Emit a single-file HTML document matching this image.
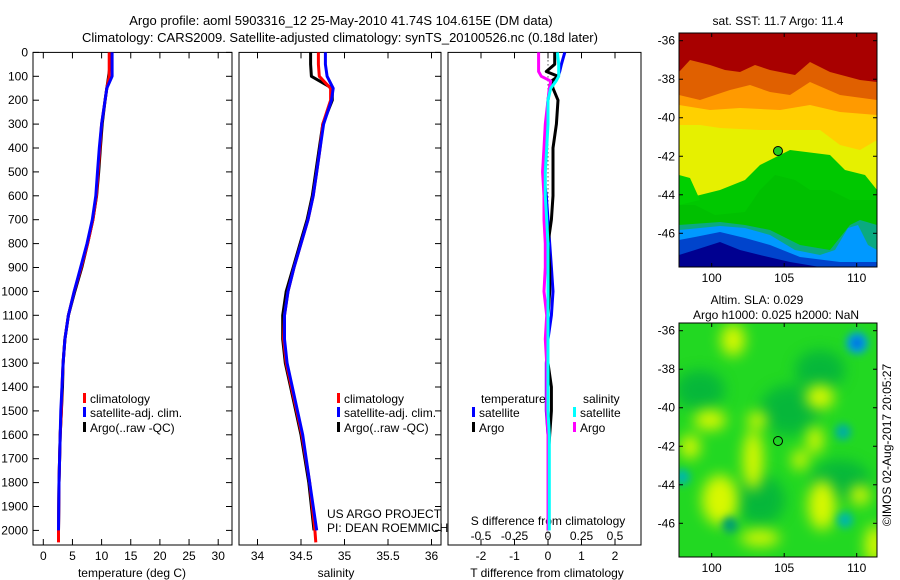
<!DOCTYPE html>
<html><head><meta charset="utf-8"><style>
body{margin:0;background:#fff;}
svg{display:block;font-family:"Liberation Sans",sans-serif;}
</style></head><body>
<svg id="fig" width="900" height="580" viewBox="0 0 900 580" xmlns="http://www.w3.org/2000/svg">
<defs>
<filter id="blur4"><feGaussianBlur stdDeviation="4"/></filter>
<filter id="blur7"><feGaussianBlur stdDeviation="7"/></filter>
<clipPath id="clipMap1"><rect x="679" y="33" width="198" height="234"/></clipPath>
<clipPath id="clipMap2"><rect x="679" y="323" width="198" height="234"/></clipPath>
</defs>
<g font-size="13" fill="#000" text-anchor="middle">
<text x="341" y="25">Argo profile: aoml 5903316_12 25-May-2010 41.74S 104.615E (DM data)</text>
<text x="340" y="42">Climatology: CARS2009. Satellite-adjusted climatology: synTS_20100526.nc (0.18d later)</text>
</g>
<g id="panels"></g>

<!-- Map 1: SST -->
<g clip-path="url(#clipMap1)">
<rect x="679" y="33" width="198" height="234" fill="#e6f000"/>
<path fill="#00c800" d="M679,200 L700,195 L720,190 L745,180 L760,165 L790,150 L830,155 L845,170 L865,175 L877,190 L877,267 L679,267Z"/>
<path fill="#00b800" d="M679,205 L695,205 L715,215 L745,212 L760,190 L775,175 L795,180 L810,190 L830,190 L850,200 L877,200 L877,240 L679,240Z" opacity="0.5"/>
<path fill="#00d000" d="M679,175 L690,178 L700,200 L679,205Z"/>
<path fill="#0aaa80" d="M679,225 L720,222 L745,225 L770,230 L800,245 L830,250 L850,225 L860,220 L877,225 L877,267 L679,267Z"/>
<path fill="#0099ff" d="M679,230 L700,228 L720,226 L745,228 L770,235 L795,250 L820,255 L835,250 L848,228 L858,225 L868,245 L877,250 L877,267 L679,267Z"/>
<path fill="#0044cc" d="M679,240 L695,237 L720,232 L745,238 L770,245 L800,257 L840,262 L877,262 L877,267 L679,267Z"/>
<path fill="#000090" d="M679,255 L695,250 L720,242 L740,250 L760,255 L790,262 L820,267 L679,267Z"/>
<path fill="#ffd000" d="M679,33 L877,33 L877,140 L860,150 L840,145 L820,130 L800,130 L760,130 L720,128 L700,125 L679,125Z"/>
<path fill="#ff9a00" d="M679,33 L877,33 L877,115 L840,112 L810,105 L780,110 L740,108 L710,110 L679,105Z"/>
<path fill="#e06000" d="M679,33 L877,33 L877,100 L840,95 L810,82 L790,95 L770,92 L750,85 L730,90 L700,100 L679,95Z"/>
<path fill="#a80000" d="M679,33 L877,33 L877,82 L860,80 L830,72 L810,62 L795,75 L770,70 L755,65 L740,72 L725,70 L710,65 L690,60 L679,72Z"/>
<circle cx="778" cy="151" r="4.5" fill="#22cc22" stroke="#000" stroke-width="1"/>
</g>
<rect x="679" y="33" width="198" height="234" fill="none" stroke="#000" stroke-width="1"/>

<!-- Map 2: SLA -->
<g clip-path="url(#clipMap2)">
<rect x="679" y="323" width="198" height="234" fill="#22d822"/>
<g filter="url(#blur7)" fill="#00b040" opacity="0.8">
<ellipse cx="700" cy="390" rx="25" ry="20"/><ellipse cx="790" cy="410" rx="30" ry="25"/><ellipse cx="760" cy="500" rx="25" ry="25"/><ellipse cx="840" cy="480" rx="30" ry="20"/><ellipse cx="820" cy="370" rx="25" ry="20"/>
</g>
<g filter="url(#blur7)" fill="#d8f800">
<ellipse cx="733" cy="340" rx="12" ry="16"/><ellipse cx="820" cy="397" rx="14" ry="12"/><ellipse cx="710" cy="420" rx="16" ry="10"/><ellipse cx="757" cy="420" rx="10" ry="8"/>
<ellipse cx="690" cy="447" rx="10" ry="12"/><ellipse cx="753" cy="460" rx="10" ry="30"/><ellipse cx="720" cy="500" rx="18" ry="25"/><ellipse cx="822" cy="505" rx="14" ry="25"/>
<ellipse cx="860" cy="495" rx="10" ry="10"/><ellipse cx="875" cy="545" rx="10" ry="20"/><ellipse cx="760" cy="538" rx="20" ry="8"/><ellipse cx="800" cy="460" rx="8" ry="10"/><ellipse cx="815" cy="440" rx="8" ry="14"/>
</g>
<g filter="url(#blur4)">
<circle cx="857" cy="343" r="11" fill="#00a0e0"/><circle cx="857" cy="343" r="5" fill="#0060e0"/>
<circle cx="843" cy="432" r="8" fill="#00b0a0"/><circle cx="845" cy="520" r="8" fill="#00b8a8"/>
<circle cx="682" cy="477" r="8" fill="#00b8a8"/><circle cx="730" cy="525" r="8" fill="#00a070"/>
</g>
<circle cx="778" cy="441" r="4.5" fill="none" stroke="#000" stroke-width="1"/>
</g>
<rect x="679" y="323" width="198" height="234" fill="none" stroke="#000" stroke-width="1"/>

<g font-size="12" text-anchor="middle">
<text x="778" y="25">sat. SST: 11.7 Argo: 11.4</text>
<text x="757" y="304">Altim. SLA: 0.029</text>
<text x="776" y="319">Argo h1000: 0.025 h2000: NaN</text>
<text x="0" y="0" transform="translate(891,445) rotate(-90)">©IMOS 02-Aug-2017 20:05:27</text>
</g>
<g id="mapaxes"></g>
</svg>
<script>
// ---------- data ----------
const depthLevels = [0,50,100,150,200,300,400,500,600,700,800,900,1000,1100,1200,1300,1400,1500,1600,1800,2000,2050];
const tempClim   = [11.3,11.3,11.3,10.9,10.6,10.0,9.7,9.4,9.1,8.5,7.6,6.5,5.3,4.3,3.7,3.4,3.2,3.1,2.9,2.7,2.6,2.6];
const tempSat    = [11.8,11.8,11.8,10.9,10.6,10.0,9.6,9.3,9.0,8.4,7.5,6.4,5.3,4.3,3.7,3.4,3.2,3.0,2.9,2.7,2.6,null];
const tempArgo   = [11.5,11.5,11.2,10.9,10.6,10.1,9.8,9.5,9.15,8.5,7.6,6.6,5.4,4.3,3.7,3.4,3.3,3.1,2.9,2.7,2.6,null];
const salClim    = [34.70,34.70,34.71,34.84,34.84,34.75,34.72,34.68,34.64,34.58,34.50,34.42,34.35,34.31,34.30,34.33,34.39,34.45,34.51,34.60,34.66,34.67];
const salSat     = [34.78,34.78,34.80,34.87,34.85,34.76,34.72,34.68,34.64,34.58,34.50,34.42,34.35,34.31,34.31,34.34,34.40,34.46,34.52,34.60,34.68,null];
const salArgo    = [34.61,34.61,34.62,34.86,34.86,34.75,34.71,34.67,34.63,34.57,34.49,34.41,34.33,34.29,34.29,34.32,34.38,34.44,34.50,34.59,34.65,null];
const diffDepths = [0,50,80,100,120,150,200,300,400,500,600,700,800,900,1000,1100,1200,1300,1400,1500,1600,1700,1800,1900,2000];
const tDiffSat   = [0.5,0.4,0.35,0.3,0.2,0.05,0.0,-0.05,-0.1,-0.15,-0.05,0,0.05,0.1,0.15,0.1,0,-0.05,-0.05,-0.05,0,0,0,0,0];
const tDiffArgo  = [0.2,0.2,-0.05,0.3,0.1,0.15,0.3,0.25,0.15,0.15,0.15,0.1,0,0.05,0.05,0,0,0,0.1,0.1,0.05,0,0,0,0];
const sDiffSat   = [0.07,0.08,0.08,0.08,0.06,0.02,0,0,-0.01,-0.02,-0.02,-0.01,0,0,0,0,0,0,0,0,0.01,0.01,0.01,0.01,0.01];
const sDiffArgo  = [-0.07,-0.07,-0.07,-0.05,0.02,0.01,0,-0.02,-0.03,-0.04,-0.03,-0.03,-0.02,-0.02,-0.03,-0.01,-0.02,-0.01,-0.01,-0.01,0,0,0,0,0];
const depthTicks = [0,100,200,300,400,500,600,700,800,900,1000,1100,1200,1300,1400,1500,1600,1700,1800,1900,2000];
const tempTicks  = [0,5,10,15,20,25,30];
const salTicks   = [34,34.5,35,35.5,36];
const tDiffTicks = [-2,-1,0,1,2];
const sDiffTicks = [-0.5,-0.25,0,0.25,0.5];
const lonTicks   = [100,105,110];
const latTicks   = [-36,-38,-40,-42,-44,-46];

// ---------- axes ----------
const NS='http://www.w3.org/2000/svg';
const TOP=52.4, BOT=545, DMAX=(BOT-TOP)/0.239;
const yD = d => TOP + d*0.239;
const xT = v => 43.3 + v*5.83;
const xS = v => 257.5 + (v-34)*87;
const xTD = v => 548 + v*33.5;
const xSD = v => 548 + v*134;
const lonX = v => 711.7 + (v-100)*14.5;
const latY1 = v => 40.7 + (-36 - v)*19.26;
const latY2 = v => 330.7 + (-36 - v)*19.26;
const root=document.getElementById('panels');
function mk(tag,attrs,parent){const e=document.createElementNS(NS,tag);for(const k in attrs)e.setAttribute(k,attrs[k]);(parent||root).appendChild(e);return e;}
function txt(s,x,y,anchor,size,parent){const t=mk('text',{x:x,y:y,'text-anchor':anchor||'middle','font-size':size||12},parent);t.textContent=s;return t;}

const panels=[{x0:33,x1:232,name:'temperature-panel'},{x0:239,x1:441,name:'salinity-panel'},{x0:448,x1:641,name:'difference-panel'}];
panels.forEach((p,i)=>{
  const g=mk('g',{});
  
  
  p.g=g;
  mk('rect',{x:p.x0,y:TOP,width:p.x1-p.x0,height:BOT-TOP,fill:'none',stroke:'#000','stroke-width':1},g);
  depthTicks.forEach(d=>{
    const y=yD(d);
    if(i===0) mk('line',{x1:p.x0,x2:p.x0+6,y1:y,y2:y,stroke:'#000'},g);
    if(i<2) mk('line',{x1:p.x1-6,x2:p.x1,y1:y,y2:y,stroke:'#000'},g);
  });
});
// depth labels
const yl=mk('g',{});


depthTicks.forEach(d=>{txt(String(d),28,yD(d)+4,'end',12,yl);});

function xTicks(g,ticks,fx,labelY,top,bottom){
  ticks.forEach(v=>{
    const x=fx(v);
    if(bottom) mk('line',{x1:x,x2:x,y1:BOT,y2:BOT-6,stroke:'#000'},g);
    if(top) mk('line',{x1:x,x2:x,y1:TOP,y2:TOP+6,stroke:'#000'},g);
    if(labelY) txt(String(v),x,labelY,'middle',12,g);
  });
}
xTicks(panels[0].g,tempTicks,xT,560,true,true);
xTicks(panels[1].g,salTicks,xS,560,true,true);
xTicks(panels[2].g,tDiffTicks,xTD,560,true,true);
sDiffTicks.forEach(v=>{txt(String(v).replace('0.','0.').replace('-0.','-0.'),xSD(v),540,'middle',12,panels[2].g);});

txt('temperature (deg C)',132,577,'middle',12,panels[0].g);
txt('salinity',336,577,'middle',12,panels[1].g);
txt('T difference from climatology',547,577,'middle',12,panels[2].g);
txt('S difference from climatology',548,525,'middle',12,panels[2].g);
txt('US ARGO PROJECT',327,518,'start',12,panels[1].g);
txt('PI: DEAN ROEMMICH',327,532,'start',12,panels[1].g);

// dotted zero line
mk('line',{x1:548,x2:548,y1:TOP,y2:BOT,stroke:'#000','stroke-dasharray':'1,3'},panels[2].g);

function series(g,vals,depths,fx,color,name,w){
  let d='';let started=false;
  vals.forEach((v,i)=>{ if(v===null) return; const x=fx(v),y=yD(depths[i]); d+=(started?'L':'M')+x.toFixed(1)+','+y.toFixed(1); started=true;});
  const p=mk('path',{d:d,fill:'none',stroke:color,'stroke-width':w||3,'stroke-linejoin':'round'},g);
  
  
}
series(panels[0].g,tempArgo,depthLevels,xT,'#000','temp-argo-line');
series(panels[0].g,tempClim,depthLevels,xT,'#ff0000','temp-climatology-line');
series(panels[0].g,tempSat,depthLevels,xT,'#0000ff','temp-satellite-line');
series(panels[1].g,salArgo,depthLevels,xS,'#000','sal-argo-line');
series(panels[1].g,salClim,depthLevels,xS,'#ff0000','sal-climatology-line');
series(panels[1].g,salSat,depthLevels,xS,'#0000ff','sal-satellite-line');
series(panels[2].g,tDiffSat,diffDepths,xTD,'#0000ff','t-diff-satellite-line');
series(panels[2].g,tDiffArgo,diffDepths,xTD,'#000','t-diff-argo-line');
series(panels[2].g,sDiffArgo,diffDepths,xSD,'#ff00ff','s-diff-argo-line');
series(panels[2].g,sDiffSat,diffDepths,xSD,'#00ffff','s-diff-satellite-line');

function legendEntry(g,x,y,color,label){
  const e=mk('g',{},g);
  
  
  mk('rect',{x:x,y:y-10,width:3,height:10,fill:color},e);
  txt(label,x+7,y,'start',12,e);
}
[[0,83],[1,337]].forEach(([pi,x])=>{
  legendEntry(panels[pi].g,x,403,'#ff0000','climatology');
  legendEntry(panels[pi].g,x,417,'#0000ff','satellite-adj. clim.');
  legendEntry(panels[pi].g,x,432,'#000','Argo(..raw -QC)');
});
txt('temperature',481,403,'start',12,panels[2].g);
txt('salinity',583,403,'start',12,panels[2].g);
legendEntry(panels[2].g,472,417,'#0000ff','satellite');
legendEntry(panels[2].g,472,432,'#000','Argo');
legendEntry(panels[2].g,573,417,'#00ffff','satellite');
legendEntry(panels[2].g,573,432,'#ff00ff','Argo');

// map axes
const ma=document.getElementById('mapaxes');
[[33,267,latY1],[323,557,latY2]].forEach(([t,b,fy],k)=>{
  lonTicks.forEach(v=>{const x=lonX(v);
    mk('line',{x1:x,x2:x,y1:t,y2:t+4,stroke:'#000'},ma);
    mk('line',{x1:x,x2:x,y1:b,y2:b-4,stroke:'#000'},ma);
    txt(String(v),x,b+15,'middle',12,ma);});
  latTicks.forEach(v=>{const y=fy(v);
    mk('line',{x1:679,x2:683,y1:y,y2:y,stroke:'#000'},ma);
    mk('line',{x1:873,x2:877,y1:y,y2:y,stroke:'#000'},ma);
    txt(String(v),675,y+4,'end',12,ma);});
});
</script>
</body></html>
